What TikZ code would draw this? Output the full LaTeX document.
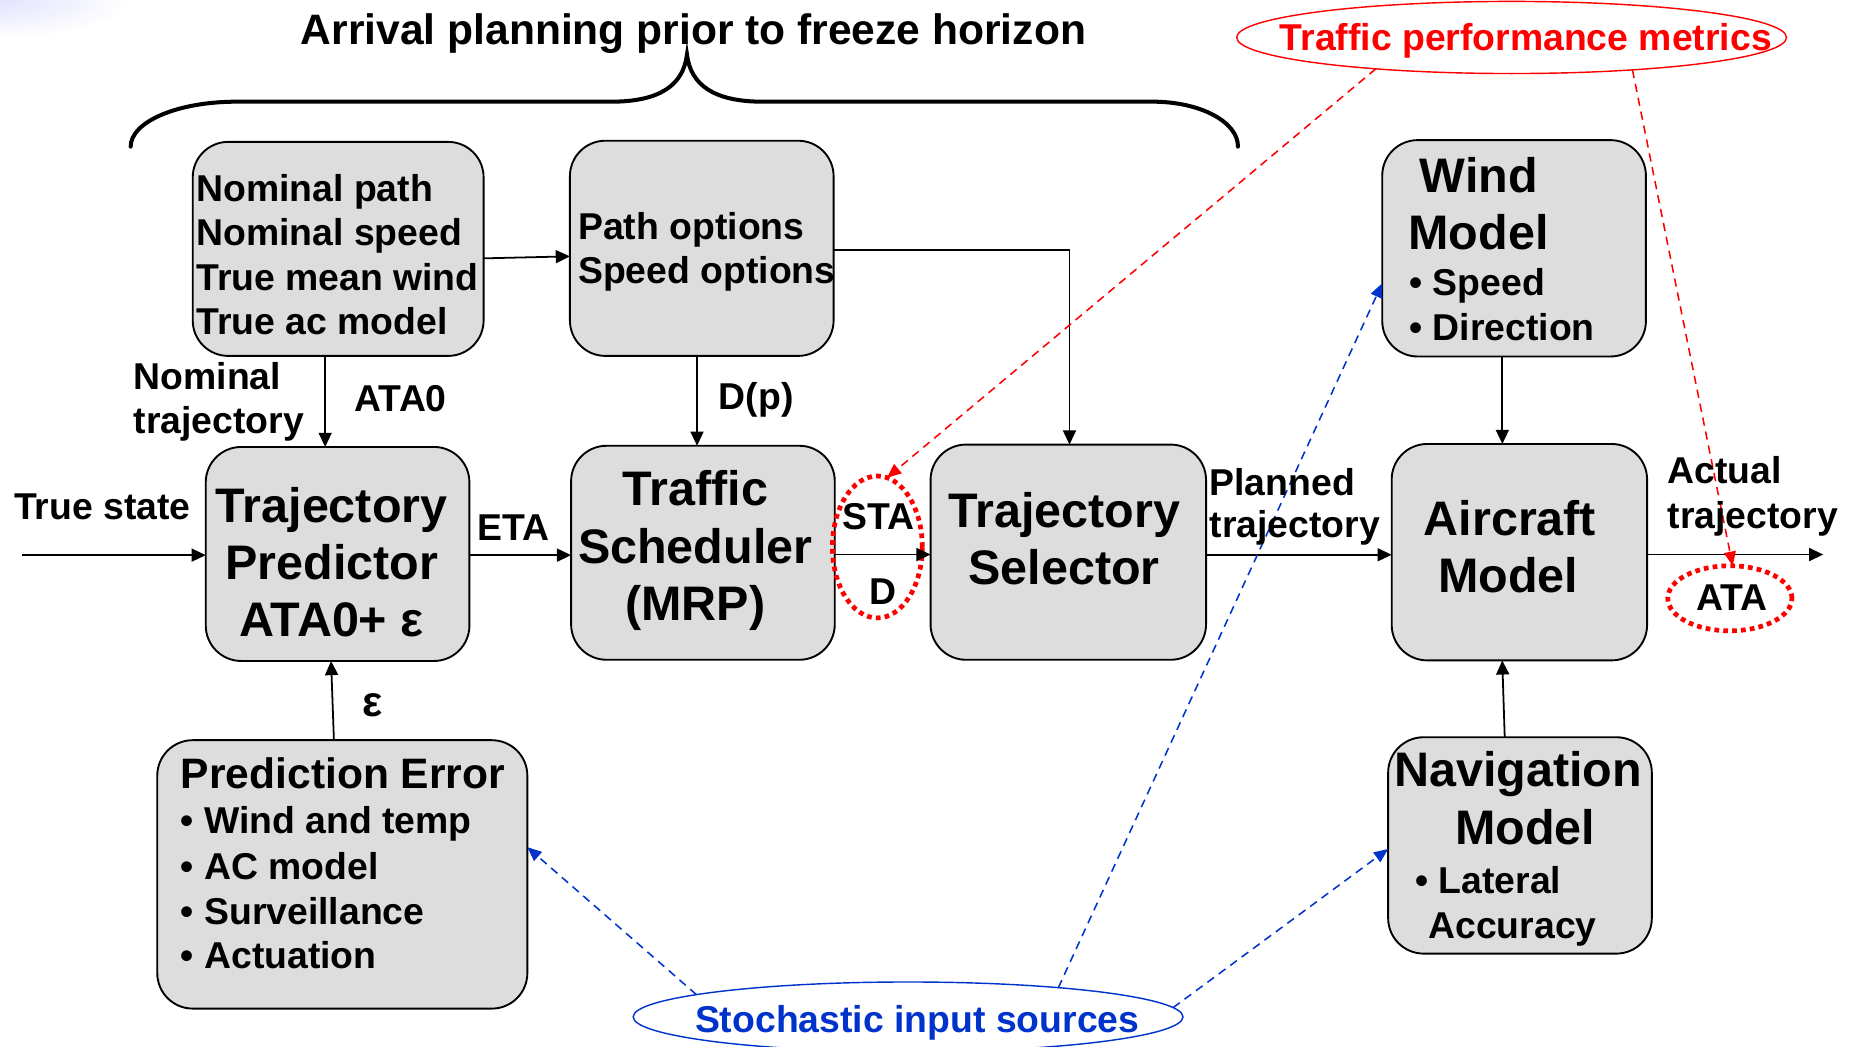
\documentclass[tikz,border=0pt]{standalone}
\usepackage{fontspec}
\setmainfont{Liberation Sans}
\usetikzlibrary{arrows.meta,shapes.geometric}
\definecolor{boxgray}{RGB}{221,221,221}
\definecolor{sblue}{RGB}{0,51,204}
\definecolor{tred}{RGB}{255,0,0}
\begin{document}
\begin{tikzpicture}[x=1pt,y=-1pt,
  box/.style={draw=black, line width=1.6pt, fill=boxgray, rounded corners=30pt, inner sep=0pt, outer sep=0pt},
  sm/.style={font=\fontsize{31.6}{37}\selectfont\bfseries, inner sep=0pt, outer sep=0pt},
  md/.style={font=\fontsize{36}{43}\selectfont\bfseries, inner sep=0pt, outer sep=0pt},
  lg/.style={font=\fontsize{41}{48}\selectfont\bfseries, inner sep=0pt, outer sep=0pt},
  conn/.style={draw=black, line width=1.5pt, -{Triangle[length=12pt,width=11pt]}},
  reddash/.style={draw=tred, line width=1.3pt, dash pattern=on 7pt off 5pt, -{Triangle[length=12pt,width=10pt]}},
  bluedash/.style={draw=sblue, line width=1.3pt, dash pattern=on 7pt off 5pt, -{Triangle[length=12pt,width=10pt]}},
  dotell/.style={ellipse, draw=tred, line width=4pt, dash pattern=on 4pt off 3.5pt, inner sep=0pt, outer sep=0pt},
  thinell/.style={ellipse, line width=1.2pt, inner sep=0pt, outer sep=0pt}
]
\useasboundingbox (0,0) rectangle (1568,885);
\shade[inner color=blue!11, outer color=white] (0,0) ellipse [x radius=110, y radius=32];

% brace
\draw[line width=3.4pt, line cap=round] (110.5,124) .. controls (110.5,103) and (150,86) .. (200,86) -- (517,86)
  .. controls (558,86) and (578,72) .. (581,46) .. controls (584,72) and (604,86) .. (645,86) -- (975,86)
  .. controls (1015,86) and (1047,103) .. (1047,124);
\node[md, anchor=base] (hdr) at (586.5,38) {Arrival planning prior to freeze horizon};

% boxes
\node[box, minimum width=246pt, minimum height=181pt] (nom) at (286,210.5) {};
\node[box, minimum width=223pt, minimum height=182pt] (opt) at (593.5,210) {};
\node[box, minimum width=223pt, minimum height=181pt] (tp) at (285.5,468.5) {};
\node[box, minimum width=223pt, minimum height=181pt] (ts) at (594.5,467.5) {};
\node[box, minimum width=233pt, minimum height=182pt] (tsel) at (903.5,467) {};
\node[box, minimum width=223pt, minimum height=183pt] (wind) at (1280.5,210) {};
\node[box, minimum width=216pt, minimum height=183pt] (ac) at (1285,467) {};
\node[box, minimum width=313pt, minimum height=227pt] (pe) at (289.5,739.5) {};
\node[box, minimum width=223pt, minimum height=183pt] (nav) at (1285.5,715) {};

% ellipses
\node[thinell, draw=tred, minimum width=465pt, minimum height=61pt] (tpm) at (1278.4,31.7) {};
\node[thinell, draw=sblue, minimum width=465pt, minimum height=59pt] (sis) at (768,860) {};
\node[dotell, minimum width=76pt, minimum height=120pt] (sta) at (742,462.6) {};
\node[dotell, minimum width=105pt, minimum height=55pt] (ata) at (1463,506) {};

% connectors
\coordinate (tsin) at (19,469.5);
\coordinate (atout) at (1542,469);
\draw[conn] (tsin) -- (tp.west |- tsin);
\draw[conn] (tp.east |- 0,469.5) -- (ts.west |- 0,469.5);
\draw[conn] (ts.east |- 0,469) -- (tsel.west |- 0,469);
\draw[conn] (tsel.east |- 0,469.2) -- (ac.west |- 0,469.2);
\draw[conn] (ac.east |- atout) -- (atout);
\draw[conn] (nom.east |- 0,218.5) -- (opt.west |- 0,216.8);
\draw[conn] (nom.south -| 275,0) -- (tp.north -| 275,0);
\draw[conn] (opt.south -| 589.5,0) -- (ts.north -| 589.5,0);
\draw[conn] (opt.east |- 0,211.4) -| (tsel.north -| 904.5,0);
\draw[conn] (wind.south -| 1270.6,0) -- (ac.north -| 1270.6,0);
\draw[conn] (nav.north -| 1272.6,0) -- (ac.south -| 1270.5,0);
\draw[conn] (pe.north -| 282.4,0) -- (tp.south -| 280,0);

\draw[reddash] (tpm.193) -- (sta.82);
\draw[reddash] (tpm.345) -- (ata.85);
\draw[bluedash] (sis.174) -- (pe.east |- 0,716.5);
\draw[bluedash] (sis.11) -- (wind.west |- 0,239.6);
\draw[bluedash] (sis.2.5) -- (nav.west |- 0,718);

% texts
\node[sm, anchor=base west] (n1) at (166,170.5) {Nominal path};
\node[sm, anchor=base west] (n2) at (166,208) {Nominal speed};
\node[sm, anchor=base west] (n3) at (166,245.5) {True mean wind};
\node[sm, anchor=base west] (n4) at (166,283) {True ac model};
\node[sm, anchor=base west] (o1) at (489,202.4) {Path options};
\node[sm, anchor=base west] (o2) at (489,239.6) {Speed options};
\node[sm, anchor=base west] (lnom1) at (113,329) {Nominal};
\node[sm, anchor=base west] (lnom2) at (113,367) {trajectory};
\node[sm, anchor=base west] (lata0) at (300,348) {ATA0};
\node[sm, anchor=base west] (ldp) at (608,346) {D(p)};
\node[lg, anchor=base] (tp1) at (280.5,441.5) {Trajectory};
\node[lg, anchor=base] (tp2) at (280.5,490) {Predictor};
\node[lg, anchor=base] (tp3) at (280.5,538) {ATA0+ ε};
\node[sm, anchor=base west] (ltrue) at (12,439) {True state};
\node[sm, anchor=base] (leta) at (434,456.7) {ETA};
\node[lg, anchor=base] (ts1) at (588,427.3) {Traffic};
\node[lg, anchor=base] (ts2) at (588,476.5) {Scheduler};
\node[lg, anchor=base] (ts3) at (588,524.5) {(MRP)};
\node[sm, anchor=base] (lsta) at (743,448) {STA};
\node[sm, anchor=base] (ld) at (747,511) {D};
\node[lg, anchor=base] (tse1) at (900,446.5) {Trajectory};
\node[lg, anchor=base] (tse2) at (900,494.6) {Selector};
\node[sm, anchor=base west] (lpl1) at (1023,418.8) {Planned};
\node[sm, anchor=base west] (lpl2) at (1023,455) {trajectory};
\node[lg, anchor=base] (w1) at (1250.8,163) {Wind};
\node[lg, anchor=base] (w2) at (1250.5,211.4) {Model};
\node[sm, anchor=base west] (w3) at (1192,250.3) {• Speed};
\node[sm, anchor=base west] (w4) at (1192,288.1) {• Direction};
\node[lg, anchor=base] (a1) at (1277,452.6) {Aircraft};
\node[lg, anchor=base] (a2) at (1275.6,501.4) {Model};
\node[sm, anchor=base west] (lact1) at (1410.5,409.3) {Actual};
\node[sm, anchor=base west] (lact2) at (1410.5,447.2) {trajectory};
\node[sm, anchor=base] (lata) at (1465,516) {ATA};
\node[md, anchor=base] (leps) at (315,605.6) {ε};
\node[md, anchor=base west] (pe1) at (153,667) {Prediction Error};
\node[sm, anchor=base west] (pe2) at (153,705.3) {• Wind and temp};
\node[sm, anchor=base west] (pe3) at (153,743.6) {• AC model};
\node[sm, anchor=base west] (pe4) at (153,781.5) {• Surveillance};
\node[sm, anchor=base west] (pe5) at (153,819.3) {• Actuation};
\node[lg, anchor=base] (nv1) at (1284,664.8) {Navigation};
\node[lg, anchor=base] (nv2) at (1290,714.5) {Model};
\node[sm, anchor=base west] (nv3) at (1197,756) {• Lateral};
\node[sm, anchor=base west] (nv4) at (1208,794) {Accuracy};
\node[sm, anchor=base, text=tred] (ltpm) at (1290.4,42.3) {Traffic performance metrics};
\node[sm, anchor=base, text=sblue] (lsis) at (775.7,872.8) {Stochastic input sources};
\end{tikzpicture}
\end{document}
